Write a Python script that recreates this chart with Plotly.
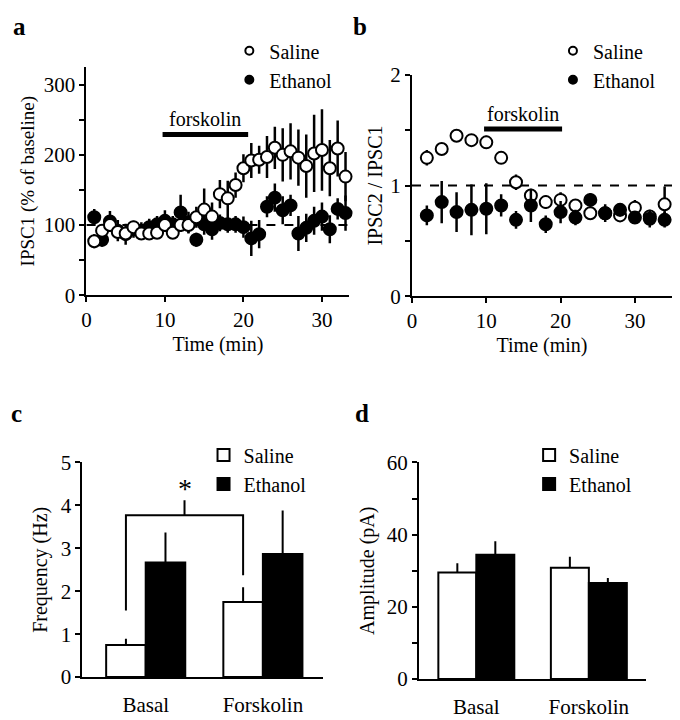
import plotly.graph_objects as go

# ---- panel a : IPSC1 amplitude (% of baseline) over time ----
time_a = list(range(1, 34))
saline_a = [77, 92, 100, 90, 88, 97, 88, 88, 89, 100, 89, 100, 100, 111, 122, 112, 144, 138,
            157, 181, 192, 193, 197, 210, 200, 205, 196, 184, 202, 207, 181, 209, 169]
saline_a_err = [10, 8, 10, 8, 8, 8, 8, 8, 8, 10, 8, 10, 12, 15, 30, 20, 20, 25,
                18, 20, 25, 20, 30, 30, 38, 40, 40, 45, 55, 58, 40, 40, 35]
ethanol_a = [111, 79, 105, 92, 87, 94, 92, 97, 101, 106, 101, 118, 104, 79, 101, 94, 103, 101,
             101, 97, 81, 87, 126, 139, 121, 128, 88, 96, 106, 112, 94, 123, 117]
ethanol_a_err = [12, 10, 15, 15, 15, 12, 12, 12, 12, 15, 12, 25, 15, 10, 15, 15, 12, 12,
                 12, 15, 25, 20, 15, 20, 20, 15, 25, 20, 20, 20, 20, 15, 25]

# ---- panel b : paired-pulse ratio ----
time_b = list(range(2, 35, 2))
saline_b = [1.25, 1.33, 1.45, 1.41, 1.39, 1.25, 1.03, 0.91, 0.85, 0.87, 0.82, 0.75, 0.75,
            0.73, 0.80, 0.72, 0.83]
saline_b_err = [0.07, 0.03, 0.02, 0.04, 0.06, 0.02, 0.07, 0.05, 0.06, 0.07, 0.05, 0.04, 0.05,
                0.04, 0.07, 0.05, 0.16]
ethanol_b = [0.73, 0.85, 0.76, 0.78, 0.79, 0.82, 0.69, 0.82, 0.65, 0.76, 0.71, 0.87, 0.75,
             0.78, 0.71, 0.70, 0.69]
ethanol_b_err = [0.09, 0.19, 0.18, 0.23, 0.23, 0.10, 0.08, 0.15, 0.08, 0.10, 0.07, 0.06, 0.08,
                 0.06, 0.05, 0.08, 0.07]

forskolin_window_a = [9.7, 20.6]
forskolin_window_b = [9.7, 20.2]

# ---- panels c, d : mIPSC frequency / amplitude ----
conditions = ["Basal", "Forskolin"]
freq_saline = [0.75, 1.75]
freq_saline_err = [0.14, 0.34]
freq_ethanol = [2.67, 2.87]
freq_ethanol_err = [0.70, 1.01]
amp_saline = [29.5, 30.8]
amp_saline_err = [2.6, 3.1]
amp_ethanol = [34.4, 26.6]
amp_ethanol_err = [3.8, 1.4]
# significance bracket (Basal vs Forskolin, saline)
bracket_y = [1.55, 3.77, 3.77, 2.37]
stub_y = [3.77, 4.12]

FONT = "Liberation Serif"
BAR_GAP = 0.325
off = (1 - BAR_GAP) / 4  # offset of saline bar centre from category centre
xpos = list(range(len(conditions)))

fig = go.Figure()


def circle_trace(x, y, err, filled, xa, ya, name):
    return go.Scatter(
        x=x, y=y, mode="markers", name=name, showlegend=False,
        xaxis=xa, yaxis=ya, cliponaxis=False,
        marker=dict(size=12, color="black" if filled else "white",
                    line=dict(color="black", width=2)),
        error_y=dict(type="data", array=err, color="black", thickness=2.5, width=0),
    )


def legend_dummy(filled, name, legend):
    return go.Scatter(
        x=[None], y=[None], mode="markers", name=name, legend=legend,
        marker=dict(size=8, color="black" if filled else "white",
                    line=dict(color="black", width=2)),
    )


# panel a
fig.add_trace(circle_trace(time_a, ethanol_a, ethanol_a_err, True, "x", "y", "Ethanol"))
fig.add_trace(circle_trace(time_a, saline_a, saline_a_err, False, "x", "y", "Saline"))
fig.add_trace(legend_dummy(False, "Saline", "legend"))
fig.add_trace(legend_dummy(True, "Ethanol", "legend"))

# panel b
fig.add_trace(circle_trace(time_b, saline_b, saline_b_err, False, "x2", "y2", "Saline"))
fig.add_trace(circle_trace(time_b, ethanol_b, ethanol_b_err, True, "x2", "y2", "Ethanol"))
fig.add_trace(legend_dummy(False, "Saline", "legend2"))
fig.add_trace(legend_dummy(True, "Ethanol", "legend2"))


def bar_trace(y, err, filled, xa, ya, name, legend):
    return go.Bar(
        x=xpos, y=y, name=name, xaxis=xa, yaxis=ya, legend=legend,
        marker=dict(color="black" if filled else "white", line=dict(color="black", width=2)),
        error_y=dict(type="data", symmetric=False, array=err, arrayminus=[0] * len(err),
                     color="black", thickness=2, width=0),
    )


# panel c
fig.add_trace(bar_trace(freq_saline, freq_saline_err, False, "x3", "y3", "Saline", "legend3"))
fig.add_trace(bar_trace(freq_ethanol, freq_ethanol_err, True, "x3", "y3", "Ethanol", "legend3"))
fig.add_trace(go.Scatter(
    x=[xpos[0] - off, xpos[0] - off, xpos[1] - off, xpos[1] - off], y=bracket_y,
    mode="lines", line=dict(color="black", width=2), showlegend=False, xaxis="x3", yaxis="y3"))
mid = (xpos[0] + xpos[1]) / 2 - off
fig.add_trace(go.Scatter(
    x=[mid, mid], y=stub_y, mode="lines", line=dict(color="black", width=2),
    showlegend=False, xaxis="x3", yaxis="y3"))
fig.add_annotation(x=mid, y=4.4, xref="x3", yref="y3", text="*", showarrow=False,
                   font=dict(size=28, family=FONT, color="black"))

# panel d
fig.add_trace(bar_trace(amp_saline, amp_saline_err, False, "x4", "y4", "Saline", "legend4"))
fig.add_trace(bar_trace(amp_ethanol, amp_ethanol_err, True, "x4", "y4", "Ethanol", "legend4"))

# forskolin bars + dashed baselines
fig.add_shape(type="line", xref="x", yref="y", x0=forskolin_window_a[0], x1=forskolin_window_a[1],
              y0=229, y1=229, line=dict(color="black", width=5))
fig.add_annotation(x=sum(forskolin_window_a) / 2, y=229, xref="x", yref="y", text="forskolin",
                   showarrow=False, yanchor="bottom", yshift=2,
                   font=dict(size=20, family=FONT, color="black"))
fig.add_shape(type="line", xref="x2", yref="y2", x0=forskolin_window_b[0], x1=forskolin_window_b[1],
              y0=1.51, y1=1.51, line=dict(color="black", width=5))
fig.add_annotation(x=sum(forskolin_window_b) / 2, y=1.51, xref="x2", yref="y2", text="forskolin",
                   showarrow=False, yanchor="bottom", yshift=2,
                   font=dict(size=20, family=FONT, color="black"))
fig.add_shape(type="line", xref="x", yref="y", x0=0, x1=33.5, y0=100, y1=100, layer="below",
              line=dict(color="black", width=2, dash="dash"))
fig.add_shape(type="line", xref="x2", yref="y2", x0=0, x1=35, y0=1, y1=1, layer="below",
              line=dict(color="black", width=2, dash="dash"))

# panel letters
for letter, px, py in [("a", 15, 15), ("b", 358, 15), ("c", 12, 415), ("d", 360, 415)]:
    fig.add_annotation(x=px / 680, y=1 - py / 720, xref="paper", yref="paper", text="<b>%s</b>" % letter,
                       showarrow=False, xanchor="center", yanchor="middle",
                       font=dict(size=25, family=FONT, color="black"))

axis_common = dict(showline=True, linecolor="black", linewidth=2, showgrid=False, zeroline=False,
                   ticks="outside", ticklen=5, tickwidth=2, tickcolor="black",
                   tickfont=dict(size=21, family=FONT, color="black"),
                   title_font=dict(size=20, family=FONT, color="black"))
minor_common = dict(ticks="outside", ticklen=5, tickwidth=2, tickcolor="black")


def dom(p0, p1):
    return [p0 / 680, p1 / 680]


def ydom(top, bottom):
    return [1 - bottom / 720, 1 - top / 720]


legend_common = dict(bgcolor="rgba(0,0,0,0)", borderwidth=0, xanchor="left", yanchor="top",
                     font=dict(size=20, family=FONT, color="black"), itemwidth=30,
                     tracegroupgap=0)

fig.update_layout(
    width=680, height=720, margin=dict(l=0, r=0, t=0, b=0),
    plot_bgcolor="white", paper_bgcolor="white",
    font=dict(family=FONT, color="black"),
    barmode="group", bargap=BAR_GAP, bargroupgap=0,
    xaxis=dict(axis_common, domain=dom(82, 347), range=[0, 33.5], tickvals=[0, 10, 20, 30],
               title=dict(text="Time (min)", standoff=6), anchor="y"),
    yaxis=dict(axis_common, domain=ydom(57, 293), range=[0, 325], tickvals=[0, 100, 200, 300],
               minor=dict(minor_common, dtick=50), anchor="x",
               title=dict(text="IPSC1 (% of baseline)", standoff=4,
                          font=dict(size=19, family=FONT, color="black"))),
    xaxis2=dict(axis_common, domain=dom(410, 672), range=[0, 35], tickvals=[0, 10, 20, 30],
                title=dict(text="Time (min)", standoff=6), anchor="y2"),
    yaxis2=dict(axis_common, domain=ydom(65, 294), range=[0, 2], tickvals=[0, 1, 2],
                minor=dict(minor_common, dtick=0.5),
                title=dict(text="IPSC2 / IPSC1", standoff=2), anchor="x2"),
    xaxis3=dict(axis_common, domain=dom(78, 320), range=[-0.54, 1.51], tickvals=xpos,
                ticktext=conditions, ticks="", ticklabelstandoff=8, anchor="y3"),
    yaxis3=dict(axis_common, domain=ydom(466, 688), range=[0, 5], tickvals=[0, 1, 2, 3, 4, 5],
                title=dict(text="Frequency (Hz)", standoff=8), anchor="x3"),
    xaxis4=dict(axis_common, domain=dom(417, 646), range=[-0.51, 1.51], tickvals=xpos,
                ticktext=conditions, ticks="", ticklabelstandoff=8, anchor="y4"),
    yaxis4=dict(axis_common, domain=ydom(466, 690), range=[0, 60], tickvals=[0, 20, 40, 60],
                minor=dict(minor_common, dtick=10),
                title=dict(text="Amplitude (pA)", standoff=7), anchor="x4"),
    legend=dict(legend_common, x=226 / 680, y=1 - 20 / 720),
    legend2=dict(legend_common, x=552 / 680, y=1 - 20 / 720),
    legend3=dict(legend_common, x=200 / 680, y=1 - 438 / 720),
    legend4=dict(legend_common, x=528 / 680, y=1 - 438 / 720),
)

fig.write_html("out.html", config={"displayModeBar": False},
               post_script="document.body.style.margin='0px';")
